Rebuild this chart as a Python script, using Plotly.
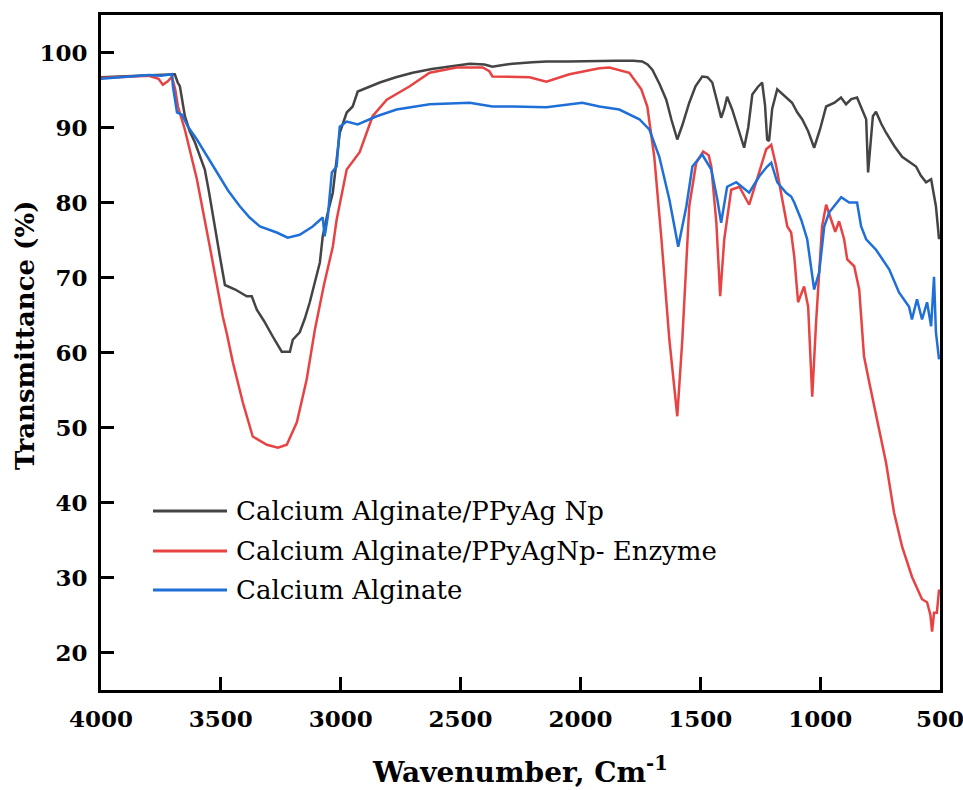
import plotly.graph_objects as go

# ---------------- data ----------------
names = ["Calcium Alginate/PPyAg Np",
         "Calcium Alginate/PPyAgNp- Enzyme",
         "Calcium Alginate"]

wn_black = [4000, 3900, 3800, 3720, 3692, 3680, 3671, 3650, 3630, 3608, 3585, 3567, 3550, 3533,
            3504, 3483, 3440, 3392, 3371, 3350, 3320, 3283, 3246, 3212, 3200, 3171, 3150, 3129,
            3108, 3087, 3075, 3055, 3033, 3015, 3004, 2975, 2950, 2929, 2892, 2837, 2770, 2700,
            2620, 2558, 2462, 2400, 2367, 2330, 2283, 2200, 2142, 2050, 1933, 1850, 1780, 1742,
            1720, 1700, 1670, 1642, 1620, 1596, 1575, 1546, 1520, 1492, 1470, 1450, 1430, 1413,
            1400, 1388, 1367, 1340, 1317, 1300, 1283, 1260, 1242, 1230, 1221, 1213, 1200, 1179,
            1150, 1117, 1095, 1075, 1050, 1025, 1000, 975, 940, 913, 892, 870, 846, 825, 808,
            800, 790, 780, 767, 745, 725, 690, 658, 630, 600, 580, 558, 537, 517, 504]
t_black = [96.7, 96.8, 97.0, 97.0, 97.1, 96.0, 95.5, 91.5, 89.5, 88.0, 86.0, 84.4, 81.5, 78.1,
           72.8, 69.0, 68.4, 67.5, 67.5, 65.7, 64.2, 62.1, 60.1, 60.1, 61.7, 62.7, 64.5, 66.7,
           69.5, 72.0, 75.5, 78.5, 81.3, 86.5, 89.3, 92.0, 92.8, 94.8, 95.3, 96.0, 96.7, 97.3,
           97.8, 98.1, 98.5, 98.4, 98.1, 98.3, 98.5, 98.7, 98.8, 98.8, 98.9, 98.9, 98.9, 98.8,
           98.4, 97.7, 95.8, 93.7, 91.0, 88.4, 90.3, 93.3, 95.5, 96.8, 96.7, 96.0, 93.5, 91.3,
           92.5, 94.1, 92.4, 89.8, 87.3, 90.0, 94.4, 95.4, 96.0, 93.0, 88.4, 88.2, 92.5, 95.1,
           94.3, 93.3, 92.0, 91.1, 89.5, 87.3, 89.8, 92.8, 93.3, 94.0, 93.1, 93.8, 94.0, 92.5, 91.1,
           84.0, 87.5, 91.5, 92.1, 90.5, 89.3, 87.5, 86.1, 85.5, 84.8, 83.6, 82.7, 83.1, 79.5, 75.1]

wn_red = [4000, 3900, 3800, 3760, 3742, 3720, 3704, 3690, 3679, 3650, 3600, 3546, 3492, 3475,
          3450, 3408, 3367, 3308, 3262, 3225, 3183, 3142, 3108, 3070, 3033, 3017, 2975, 2921,
          2867, 2808, 2712, 2629, 2517, 2408, 2380, 2367, 2308, 2212, 2142, 2100, 2046, 1921,
          1879, 1796, 1746, 1721, 1692, 1662, 1629, 1596, 1575, 1546, 1517, 1488, 1465, 1454,
          1433, 1417, 1400, 1371, 1337, 1296, 1254, 1225, 1204, 1183, 1158, 1137, 1121, 1108,
          1092, 1067, 1050, 1033, 1017, 992, 975, 954, 937, 921, 900, 887, 858, 837, 817, 795,
          775, 746, 725, 692, 658, 617, 575, 554, 540, 533, 525, 513, 504]
t_red = [96.6, 96.8, 96.9, 96.5, 95.7, 96.2, 96.8, 95.0, 92.8, 89.7, 83.1, 74.1, 64.8, 62.5,
         58.7, 53.3, 48.8, 47.7, 47.3, 47.7, 50.7, 56.4, 63.0, 69.0, 74.1, 77.7, 84.4, 86.7,
         91.5, 93.7, 95.5, 97.3, 98.0, 98.0, 97.5, 96.8, 96.8, 96.7, 96.1, 96.5, 97.1, 97.9,
         98.0, 97.3, 95.1, 92.8, 86.1, 75.1, 61.7, 51.5, 61.7, 79.5, 85.3, 86.8, 86.3, 84.8,
         77.3, 67.5, 75.1, 81.7, 82.1, 79.7, 84.0, 87.1, 87.7, 84.8, 80.4, 76.8, 76.0, 72.8,
         66.7, 68.8, 66.1, 54.1, 64.0, 76.8, 79.7, 77.7, 76.1, 77.5, 75.1, 72.4, 71.5, 68.4, 59.5, 56.0,
         52.8, 48.4, 45.3, 38.7, 34.1, 30.1, 27.1, 26.7, 25.0, 22.8, 25.3, 25.3, 28.4]

wn_blue = [4000, 3900, 3800, 3750, 3704, 3700, 3683, 3662, 3637, 3600, 3560, 3517, 3470, 3421,
           3380, 3337, 3267, 3221, 3171, 3117, 3075, 3067, 3054, 3037, 3017, 3004, 2975, 2929,
           2850, 2767, 2629, 2462, 2367, 2283, 2142, 1992, 1921, 1838, 1754, 1712, 1671, 1629,
           1592, 1558, 1533, 1492, 1454, 1429, 1413, 1388, 1350, 1296, 1254, 1221, 1204, 1179,
           1142, 1121, 1108, 1079, 1054, 1025, 1004, 983, 962, 912, 879, 846, 829, 808, 767,
           712, 671, 629, 617, 596, 575, 554, 537, 525, 517, 504]
t_blue = [96.5, 96.8, 97.0, 96.9, 97.1, 95.5, 92.0, 91.7, 90.1, 88.4, 86.3, 84.0, 81.6, 79.5,
          78.0, 76.8, 76.0, 75.3, 75.7, 76.8, 78.0, 75.5, 78.1, 84.0, 84.8, 90.1, 90.8, 90.4,
          91.5, 92.4, 93.1, 93.3, 92.8, 92.8, 92.7, 93.3, 92.8, 92.4, 91.1, 89.7, 86.1, 80.4,
          74.1, 79.5, 84.8, 86.4, 84.4, 80.4, 77.3, 82.1, 82.7, 81.3, 83.5, 84.8, 85.3, 82.7,
          81.3, 80.8, 80.0, 77.7, 75.1, 68.4, 70.7, 76.8, 78.7, 80.7, 80.0, 80.0, 76.8, 75.1, 73.7,
          71.1, 68.0, 66.1, 64.4, 67.1, 64.4, 66.7, 63.5, 70.1, 62.7, 59.1]

x_ticks = [4000, 3500, 3000, 2500, 2000, 1500, 1000, 500]
y_ticks = [20, 30, 40, 50, 60, 70, 80, 90, 100]

# ---------------- style ----------------
colors = ["#444444", "#E84343", "#1F6FD8"]
FONT = "DejaVu Serif"
W, H = 963, 790
L, R, T, B = 101, 940, 15, 690  # plot area in px


def px_x(px):
    return (px - L) / (R - L)


def px_y(py):
    return (B - py) / (B - T)


fig = go.Figure()
for wn, tv, nm, c in zip([wn_black, wn_red, wn_blue], [t_black, t_red, t_blue], names, colors):
    fig.add_trace(go.Scatter(x=wn, y=tv, mode="lines", name=nm,
                             line=dict(color=c, width=2.5), showlegend=False))

axis_common = dict(showline=True, linecolor="black", linewidth=3, mirror=True,
                   ticks="inside", ticklen=13, tickwidth=3, tickcolor="black",
                   showgrid=False, zeroline=False, automargin=False,
                   tickfont=dict(family=FONT, size=23, color="black", weight="bold"))

fig.update_xaxes(range=[4000, 500], tickvals=x_ticks, ticklabelstandoff=6,
                 ticklabeloverflow="allow", **axis_common)
fig.update_yaxes(range=[15, 105], tickvals=y_ticks, ticklabelstandoff=6, **axis_common)

# manual legend (long line samples as in the reference)
leg_rows = [511, 551, 590]
for nm, c, ry in zip(names, colors, leg_rows):
    fig.add_shape(type="line", xref="paper", yref="paper",
                  x0=px_x(153), x1=px_x(227), y0=px_y(ry), y1=px_y(ry),
                  line=dict(color=c, width=3))
    fig.add_annotation(xref="paper", yref="paper", x=px_x(234), y=px_y(ry),
                       xanchor="left", yanchor="middle", text=nm, showarrow=False,
                       font=dict(family=FONT, size=26, color="black"))

# axis titles
fig.add_annotation(xref="paper", yref="paper", x=px_x(520), y=px_y(770),
                   xanchor="center", yanchor="middle", showarrow=False,
                   text="<b>Wavenumber, Cm<sup>-1</sup></b>",
                   font=dict(family=FONT, size=28, color="black"))
fig.add_annotation(xref="paper", yref="paper", x=px_x(25), y=px_y(336),
                   xanchor="center", yanchor="middle", showarrow=False, textangle=-90,
                   text="<b>Transmittance (%)</b>",
                   font=dict(family=FONT, size=26, color="black"))

fig.update_layout(width=W, height=H, margin=dict(l=L, r=W - R, t=T, b=H - B, autoexpand=False),
                  plot_bgcolor="white", paper_bgcolor="white", showlegend=False,
                  font=dict(family=FONT))

fig.write_html("out.html")
